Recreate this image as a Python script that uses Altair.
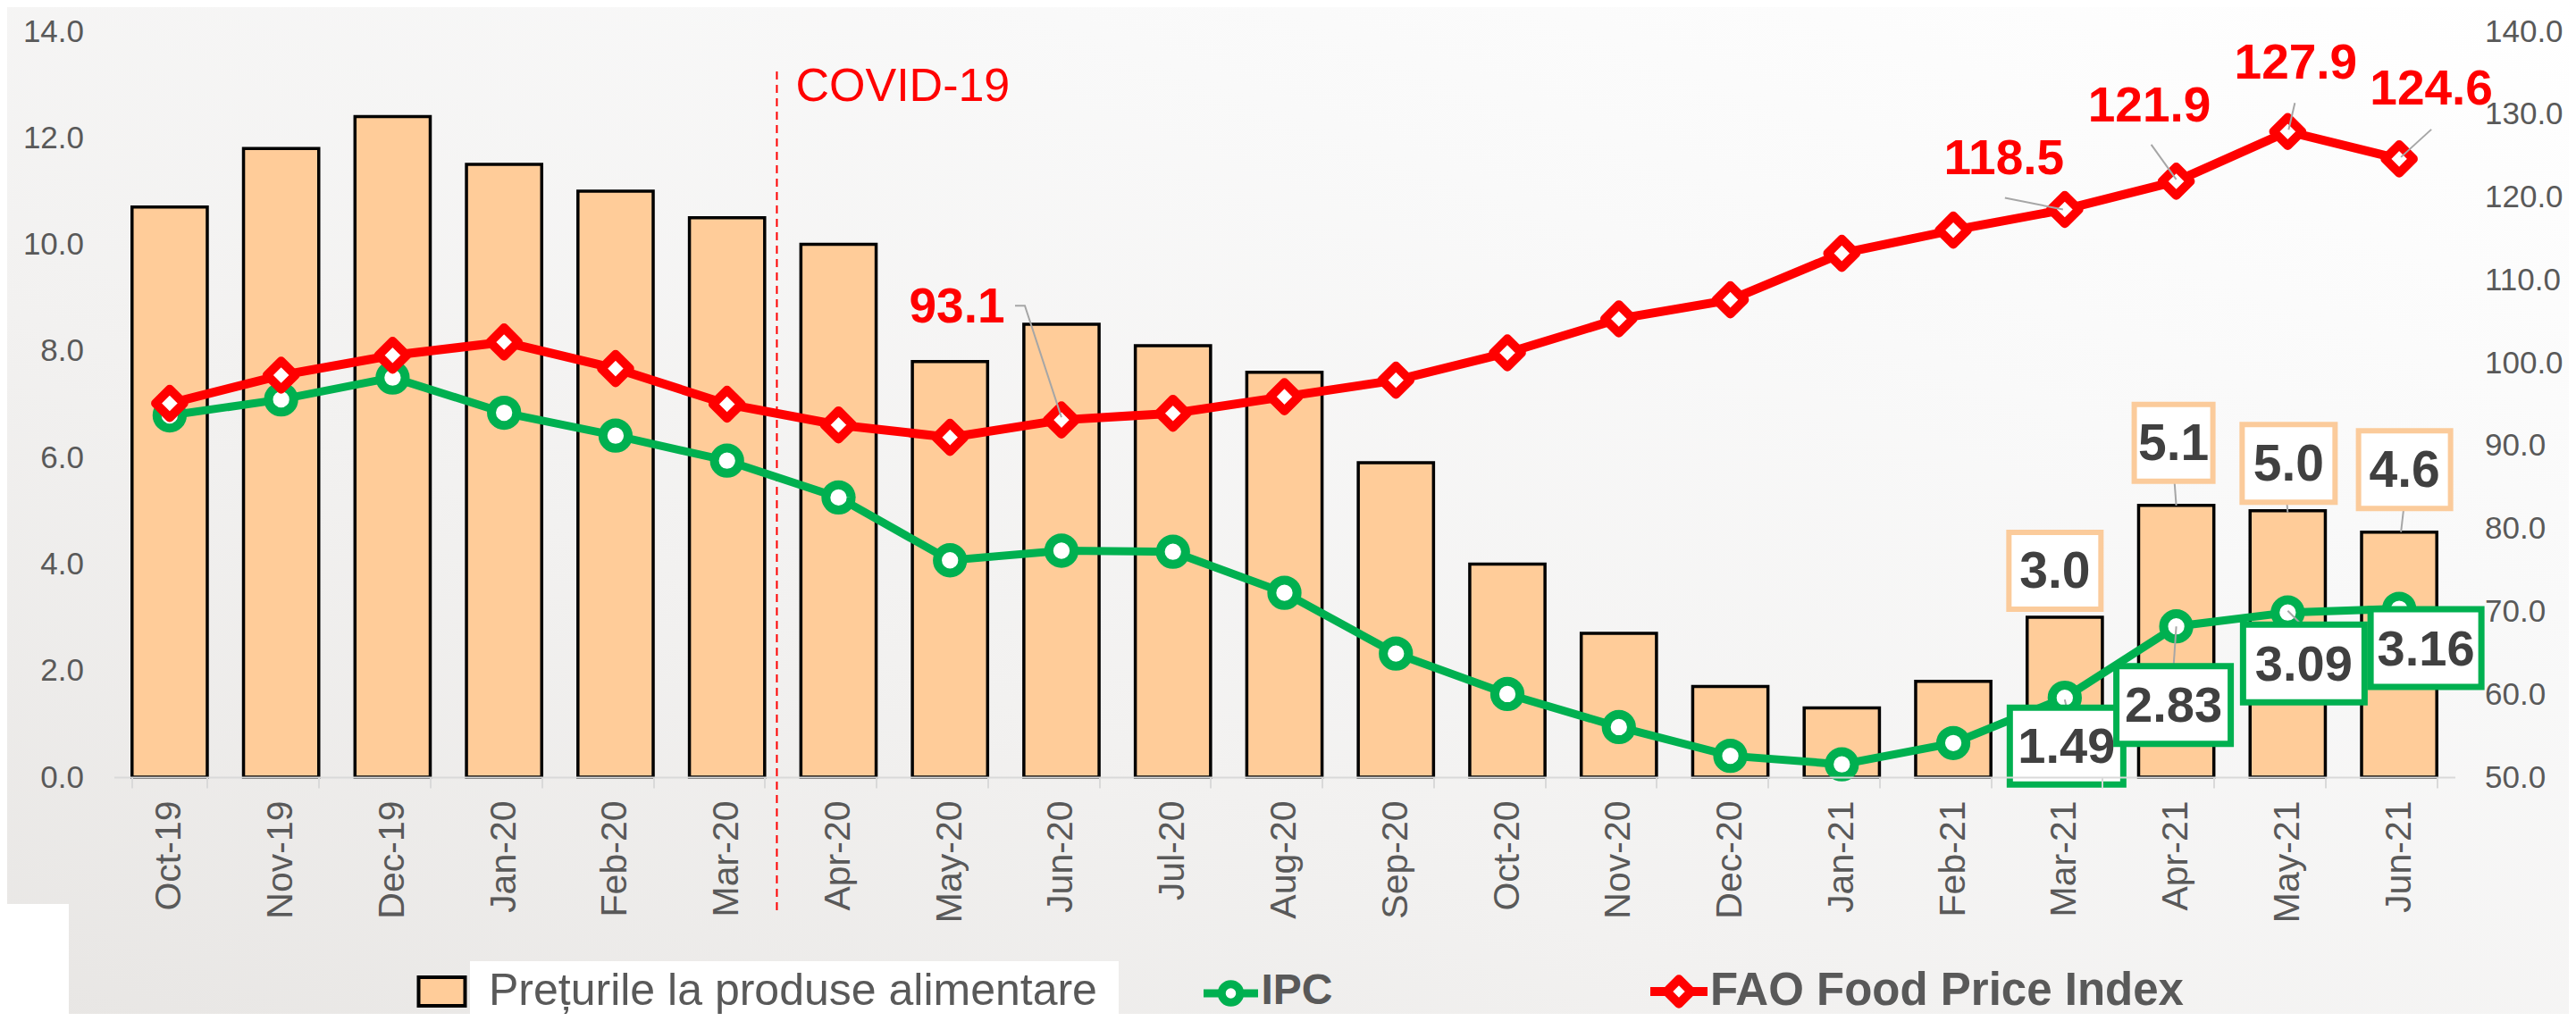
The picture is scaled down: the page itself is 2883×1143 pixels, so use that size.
import altair as alt
import pandas as pd

# ---------------- data ----------------
months = ["Oct-19", "Nov-19", "Dec-19", "Jan-20", "Feb-20", "Mar-20", "Apr-20",
          "May-20", "Jun-20", "Jul-20", "Aug-20", "Sep-20", "Oct-20", "Nov-20",
          "Dec-20", "Jan-21", "Feb-21", "Mar-21", "Apr-21", "May-21", "Jun-21"]
food = [10.7, 11.8, 12.4, 11.5, 11.0, 10.5, 10.0, 7.8, 8.5, 8.1, 7.6, 5.9,
        4.0, 2.7, 1.7, 1.3, 1.8, 3.0, 5.1, 5.0, 4.6]
ipc = [6.79, 7.09, 7.50, 6.84, 6.41, 5.94, 5.25, 4.07, 4.25, 4.23, 3.46, 2.32,
       1.56, 0.94, 0.40, 0.24, 0.64, 1.49, 2.83, 3.09, 3.16]
fao = [95.1, 98.5, 100.9, 102.5, 99.3, 95.0, 92.5, 91.0, 93.1, 93.9, 95.9, 97.9,
       101.2, 105.3, 107.6, 113.2, 116.0, 118.5, 121.9, 127.9, 124.6]
left_ticks = [0, 2, 4, 6, 8, 10, 12, 14]
right_ticks = [50, 60, 70, 80, 90, 100, 110, 120, 130, 140]
legend_names = ["Prețurile la produse alimentare", "IPC", "FAO Food Price Index"]
covid_label = "COVID-19"
covid_month = "Apr-20"

df = pd.DataFrame({"month": months, "food": food, "ipc": ipc, "fao": fao})

# ---------------- styling / layout ----------------
W, H = 2620, 835
PAD = {"left": 119.5, "top": 27, "right": 127.5, "bottom": 265}
RED = "#FF0000"
GREEN = "#00B050"
PEACH = "#FFCC99"
BOXPEACH = "#FBCB9B"
GRAY = "#595959"
DARK = "#404040"
SANS = "Liberation Sans, Arial, sans-serif"

# label offsets (dx, dy) relative to data point and box sizes (w, h)
fao_lab = {"Jun-20": (-117, -126), "Mar-21": (-68, -56), "Apr-21": (-30, -84),
           "May-21": (9, -76), "Jun-21": (36, -78)}
fao_lead = {"Jun-20": "M-52,-128L-41,-128L0,-3", "Mar-21": "M-67,-13L-2,0",
            "Apr-21": "M-28,-41L0,-2", "May-21": "M8,-32L1,-2", "Jun-21": "M36,-33L2,-2"}
food_lab = {"Mar-21": (-11, -52, 103, 86), "Apr-21": (-3, -70, 88, 86),
            "May-21": (1, -53, 104, 87), "Jun-21": (6, -70, 103, 87)}
food_lead = {"Apr-21": "M-2,-27L0,0", "May-21": "M-1,-10L0,2", "Jun-21": "M5,-26L2,0"}
ipc_lab = {"Mar-21": (2, 54, 127, 86), "Apr-21": (-3, 88, 128, 87),
           "May-21": (18, 57, 136, 87), "Jun-21": (30, 44, 124, 87)}
ipc_lead = {"Mar-21": "M0,2L2,11", "Apr-21": "M0,0L-3,45", "May-21": "M0,-2L14,12"}

x_enc = alt.X(
    "month:N", sort=months,
    scale=alt.Scale(paddingInner=0.325, paddingOuter=0.1625),
    axis=alt.Axis(title=None, labelAngle=-90, labelFont=SANS, labelFontSize=41,
                  labelColor=GRAY, labelPadding=14, tickBand="extent", tickSize=12,
                  tickColor="#d9d9d9", tickWidth=2, domainColor="#d9d9d9",
                  domainWidth=2, grid=False, zindex=1),
)
yl_scale = alt.Scale(domain=[0, 14], nice=False, zero=False)
yr_scale = alt.Scale(domain=[50, 140], nice=False, zero=False)
left_axis = alt.Axis(title=None, orient="left", values=left_ticks, format=".1f",
                     labelFont=SANS, labelFontSize=35, labelColor=GRAY,
                     labelPadding=34, domain=False, ticks=False, grid=False, zindex=1)
right_axis = alt.Axis(title=None, orient="right", values=right_ticks, format=".1f",
                      labelFont=SANS, labelFontSize=35, labelColor=GRAY,
                      labelPadding=33, domain=False, ticks=False, grid=False, zindex=1)

def yl(field, axis=None):
    return alt.Y(f"{field}:Q", scale=yl_scale, axis=axis)

def yr(field, axis=None):
    return alt.Y(f"{field}:Q", scale=yr_scale, axis=axis)

def one(m):
    return alt.Chart(df).transform_filter(alt.datum.month == m)

single = alt.Data(values=[{"k": 0}])

layers = []

# background gradient
layers.append(alt.Chart(single).mark_rect(
    color=alt.LinearGradient(
        gradient="linear",
        stops=[alt.GradientStop(color="#e8e6e4", offset=0),
               alt.GradientStop(color="#f2f1f0", offset=0.35),
               alt.GradientStop(color="#f9f9f9", offset=0.7),
               alt.GradientStop(color="#ffffff", offset=1)],
        x1=0, y1=1, x2=1, y2=0)
).encode(x=alt.value(-PAD["left"]), x2=alt.value(W + PAD["right"]),
         y=alt.value(-PAD["top"]), y2=alt.value(H + PAD["bottom"])))

# white patches
layers.append(alt.Chart(single).mark_rect(color="white").encode(
    x=alt.value(-PAD["left"]), x2=alt.value(-50.5), y=alt.value(977), y2=alt.value(H + PAD["bottom"])))
layers.append(alt.Chart(single).mark_rect(color="white").encode(
    x=alt.value(398.5), x2=alt.value(1124.5), y=alt.value(1041), y2=alt.value(H + PAD["bottom"])))

# bars
layers.append(alt.Chart(df).mark_bar(color=PEACH, stroke="black", strokeWidth=3.5).encode(
    x=x_enc, y=yl("food", left_axis)))

# COVID marker
layers.append(one(covid_month).mark_rule(color=RED, strokeWidth=2, strokeDash=[9, 6], xOffset=-69).encode(
    x=x_enc, y=alt.value(45), y2=alt.value(988)))
layers.append(one(covid_month).mark_text(text=covid_label, align="left", baseline="middle",
                                         font=SANS, fontSize=52, color=RED, dx=-48).encode(
    x=x_enc, y=alt.value(62)))

# IPC line
layers.append(alt.Chart(df).mark_line(color=GREEN, strokeWidth=9).encode(x=x_enc, y=yl("ipc")))
layers.append(alt.Chart(df).mark_point(shape="circle", size=800, filled=True, fill="white",
                                       stroke=GREEN, strokeWidth=10, opacity=1).encode(
    x=x_enc, y=yl("ipc")))

# FAO line
layers.append(alt.Chart(df).mark_line(color=RED, strokeWidth=10).encode(x=x_enc, y=yr("fao", right_axis)))
layers.append(alt.Chart(df).mark_point(shape="diamond", size=1000, filled=True, fill="white",
                                       stroke=RED, strokeWidth=10, strokeJoin="round", opacity=1).encode(
    x=x_enc, y=yr("fao")))

# leader lines
for m, p in fao_lead.items():
    layers.append(one(m).mark_point(shape=p, size=4, filled=False, color="#a6a6a6",
                                    strokeWidth=2, opacity=1).encode(x=x_enc, y=yr("fao")))
for m, p in food_lead.items():
    layers.append(one(m).mark_point(shape=p, size=4, filled=False, color="#a6a6a6",
                                    strokeWidth=2, opacity=1).encode(x=x_enc, y=yl("food")))
for m, p in ipc_lead.items():
    layers.append(one(m).mark_point(shape=p, size=4, filled=False, color="#a6a6a6",
                                    strokeWidth=2, opacity=1).encode(x=x_enc, y=yl("ipc")))

def box(dx, dy, w, h):
    return f"M{dx - w / 2},{dy - h / 2}h{w}v{h}h{-w}Z"

# food labels (peach boxes)
for m, (dx, dy, w, h) in food_lab.items():
    layers.append(one(m).mark_point(shape=box(dx, dy, w, h), size=4, filled=True, fill="white",
                                    stroke=BOXPEACH, strokeWidth=6, opacity=1).encode(x=x_enc, y=yl("food")))
    layers.append(one(m).mark_text(dx=dx, dy=dy + 2, align="center", baseline="middle", font=SANS,
                                   fontWeight="bold", fontSize=57, color=DARK).encode(
        x=x_enc, y=yl("food"), text=alt.Text("food:Q", format=".1f")))

# IPC labels (green boxes)
for m, (dx, dy, w, h) in ipc_lab.items():
    layers.append(one(m).mark_point(shape=box(dx, dy, w, h), size=4, filled=True, fill="white",
                                    stroke=GREEN, strokeWidth=7, opacity=1).encode(x=x_enc, y=yl("ipc")))
    layers.append(one(m).mark_text(dx=dx, dy=dy + 2, align="center", baseline="middle", font=SANS,
                                   fontWeight="bold", fontSize=56, color=DARK).encode(
        x=x_enc, y=yl("ipc"), text=alt.Text("ipc:Q", format=".2f")))

# FAO labels
for m, (dx, dy) in fao_lab.items():
    layers.append(one(m).mark_text(dx=dx, dy=dy, align="center", baseline="middle", font=SANS,
                                   fontWeight="bold", fontSize=55, color=RED).encode(
        x=x_enc, y=yr("fao"), text=alt.Text("fao:Q", format=".1f")))

# legend
LY = 1075
layers.append(alt.Chart(single).mark_rect(color=PEACH, stroke="black", strokeWidth=4).encode(
    x=alt.value(341), x2=alt.value(393), y=alt.value(LY - 16), y2=alt.value(LY + 16)))
layers.append(alt.Chart(single).mark_text(text=legend_names[0], align="left", baseline="middle",
                                          font=SANS, fontSize=50, color=GRAY).encode(
    x=alt.value(419.5), y=alt.value(LY)))
layers.append(alt.Chart(single).mark_rule(color=GREEN, strokeWidth=9).encode(
    x=alt.value(1219.5), x2=alt.value(1280.5), y=alt.value(LY + 2)))
layers.append(alt.Chart(single).mark_point(shape="circle", size=420, filled=True, fill="white",
                                           stroke=GREEN, strokeWidth=9, opacity=1).encode(
    x=alt.value(1250), y=alt.value(LY + 2)))
layers.append(alt.Chart(single).mark_text(text=legend_names[1], align="left", baseline="middle",
                                          font=SANS, fontWeight="bold", fontSize=48, color=GRAY).encode(
    x=alt.value(1284), y=alt.value(LY)))
layers.append(alt.Chart(single).mark_rule(color=RED, strokeWidth=10).encode(
    x=alt.value(1719.5), x2=alt.value(1783.5), y=alt.value(LY)))
layers.append(alt.Chart(single).mark_point(shape="diamond", size=750, filled=True, fill="white",
                                           stroke=RED, strokeWidth=10, strokeJoin="round", opacity=1).encode(
    x=alt.value(1751.5), y=alt.value(LY)))
layers.append(alt.Chart(single).mark_text(text=legend_names[2], align="left", baseline="middle",
                                          font=SANS, fontWeight="bold", fontSize=51, color=GRAY).encode(
    x=alt.value(1786.5), y=alt.value(LY)))

chart = alt.layer(*layers).resolve_scale(y="independent").properties(
    width=W, height=H,
    autosize=alt.AutoSizeParams(type="none"),
    padding=PAD,
    background="#f5f4f3",
).configure_view(stroke=None)

chart.save("out.html", embed_options={"renderer": "svg", "actions": False})
